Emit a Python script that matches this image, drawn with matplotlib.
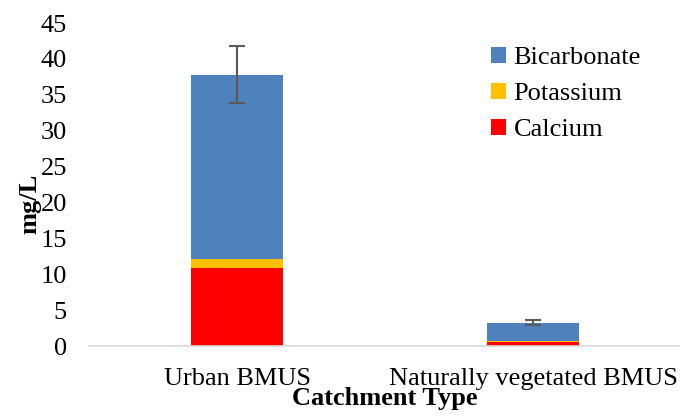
import matplotlib.pyplot as plt
import numpy as np

categories = ['Urban BMUS', 'Naturally vegetated BMUS']
calcium = [10.8, 0.55]
potassium = [1.3, 0.2]
bicarbonate = [25.7, 2.5]
totals = [37.8, 3.25]
errors = [4.0, 0.35]

plt.rcParams['font.family'] = ['Liberation Serif', 'DejaVu Serif']

fig = plt.figure(figsize=(6.8, 4.19), dpi=100)
ax = fig.add_axes([89 / 680, 1 - 346 / 419, 592 / 680, 323 / 419])

x = np.arange(len(categories))
w = 0.31
ax.bar(x, calcium, w, color='#FF0000', label='Calcium')
ax.bar(x, potassium, w, bottom=calcium, color='#FFC000', label='Potassium')
bottom2 = np.array(calcium) + np.array(potassium)
ax.bar(x, bicarbonate, w, bottom=bottom2, color='#4F81BD', label='Bicarbonate')
ax.errorbar(x, totals, yerr=errors, fmt='none', ecolor='#595959', elinewidth=1.5,
            capsize=6, capthick=1.5)

ax.set_xlim(-0.5, 1.5)
ax.set_ylim(0, 45)
ax.set_yticks(np.arange(0, 46, 5))
ax.set_xticks(x)
ax.set_xticklabels(categories, fontsize=19)
ax.tick_params(axis='y', labelsize=19, length=0, pad=16)
ax.tick_params(axis='x', length=0, pad=16)

for s in ['top', 'right', 'left']:
    ax.spines[s].set_visible(False)
ax.spines['bottom'].set_color('#D9D9D9')
ax.spines['bottom'].set_linewidth(1.2)

ax.set_ylabel('mg/L', fontsize=19, fontweight='bold')
ax.yaxis.set_label_coords(-0.08, 0.44)
ax.set_xlabel('Catchment Type', fontsize=19, fontweight='bold', labelpad=-2)

handles, labels = ax.get_legend_handles_labels()
fig.legend(handles[::-1], labels[::-1], loc='upper left',
           bbox_to_anchor=(491 / 680, 1 - 47 / 419),
           frameon=False, fontsize=19, handlelength=0.55, handleheight=0.55,
           handletextpad=0.3, labelspacing=0.52, borderpad=0, borderaxespad=0)

fig.savefig('out.png')
